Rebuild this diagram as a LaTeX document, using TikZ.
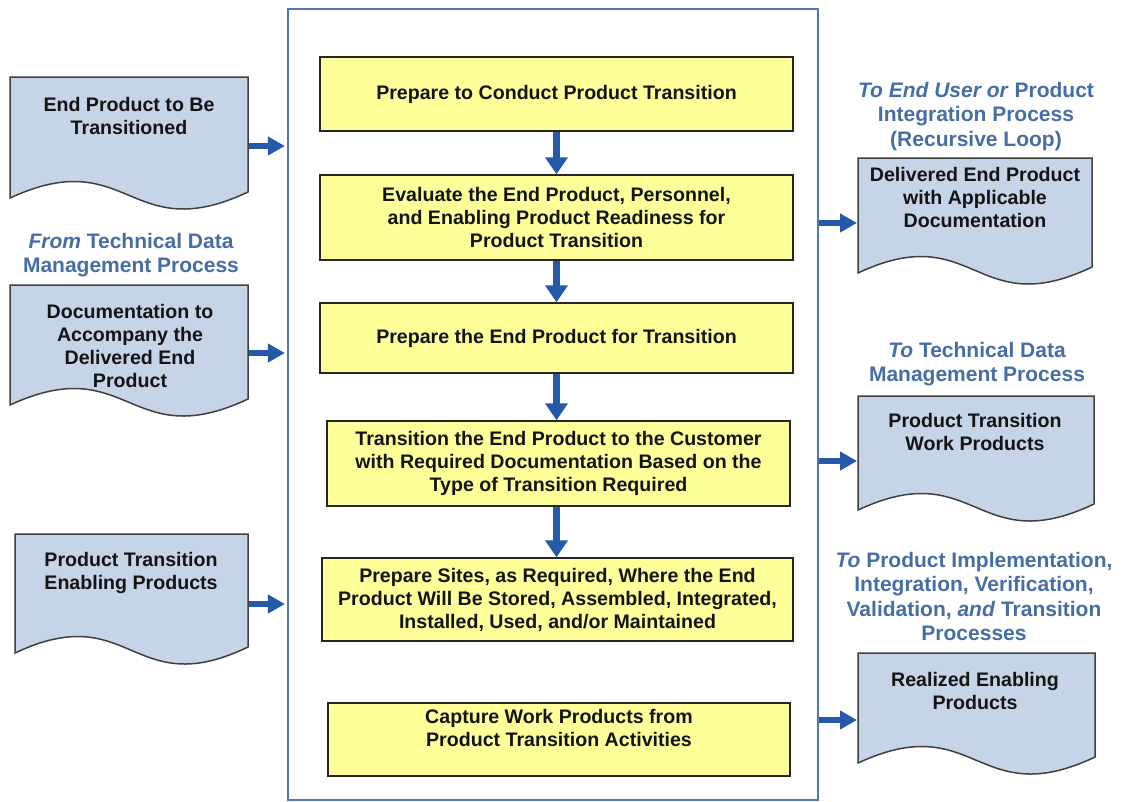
\documentclass[tikz,border=0pt]{standalone}
\usepackage{fontspec}
\setmainfont{Liberation Sans}
\usetikzlibrary{arrows.meta}
\definecolor{yel}{RGB}{255,255,153}
\definecolor{docfill}{RGB}{197,212,230}
\definecolor{arrc}{RGB}{36,90,168}
\definecolor{framec}{RGB}{74,120,184}
\definecolor{lblc}{RGB}{70,110,165}
\definecolor{txt}{RGB}{20,20,20}
\newcommand{\bodyfont}{\fontsize{19.6pt}{23pt}\selectfont\bfseries}
\newcommand{\lblfont}{\fontsize{21pt}{24.5pt}\selectfont\bfseries}
\begin{document}
\begin{tikzpicture}[x=1pt,y=-1pt,
  ybox/.style={draw=black!85, line width=1.5pt, fill=yel, inner sep=0pt, align=center, font=\bodyfont, text=txt},
  docshape/.style={draw=black!75, line width=1.5pt, fill=docfill},
  doctext/.style={align=center, font=\bodyfont, text=txt, inner sep=0pt},
  lbl/.style={align=center, font=\lblfont, text=lblc, inner sep=0pt},
  varr/.style={draw=arrc, line width=7pt, -{Triangle[width=22pt,length=17pt]}},
  harr/.style={draw=arrc, line width=6pt, -{Triangle[width=18pt,length=17pt]}}]
\useasboundingbox (0,0) rectangle (1124,801);
\fill[white] (0,0) rectangle (1124,801);

% frame
\node[draw=framec, line width=2.2pt, minimum width=530pt, minimum height=791pt, inner sep=0pt] (frame) at (553,404.5) {};

% process boxes
\node[ybox, minimum width=473pt, minimum height=74pt] (b1) at (556.5,94) {Prepare to Conduct Product Transition};
\node[ybox, minimum width=473pt, minimum height=85pt] (b2) at (556.5,217.5) {Evaluate the End Product, Personnel,\\and Enabling Product Readiness for\\Product Transition};
\node[ybox, minimum width=473pt, minimum height=70pt] (b3) at (556.5,338) {Prepare the End Product for Transition};
\node[ybox, minimum width=463pt, minimum height=85pt] (b4) at (558.5,463.5) {Transition the End Product to the Customer\\with Required Documentation Based on the\\Type of Transition Required};
\node[ybox, minimum width=471pt, minimum height=83pt] (b5) at (557.5,599.5) {Prepare Sites, as Required, Where the End\\Product Will Be Stored, Assembled, Integrated,\\Installed, Used, and/or Maintained};
\node[ybox, minimum width=462pt, minimum height=73pt] (b6) at (559,739.5) {};
\node[doctext] (b6t) at (559,728) {Capture Work Products from\\Product Transition Activities};

% vertical arrows
\draw[varr] (b1.south) -- (b1.south |- b2.north);
\draw[varr] (b2.south) -- (b2.south |- b3.north);
\draw[varr] (b3.south) -- (b3.south |- b4.north);
\draw[varr] (b4.south -| b3.south) -- (b3.south |- b5.north);

% left documents
\draw[docshape] (10,77) -- (248,77) -- (248,192) .. controls (129,248) and (129,143) .. (10,198) -- cycle;
\node[doctext] (d1) at (129,116) {End Product to Be\\Transitioned};
\draw[docshape] (10,285) -- (248,285) -- (248,399) .. controls (129,455) and (129,350) .. (10,405) -- cycle;
\node[doctext] (d2) at (130,346) {Documentation to\\Accompany the\\Delivered End\\Product};
\draw[docshape] (15,534) -- (248,534) -- (248,647) .. controls (131.5,703) and (131.5,598) .. (15,653) -- cycle;
\node[doctext] (d3) at (131,573) {Product Transition\\Enabling Products};

\node[lbl] (l1) at (131,255) {\textit{From} Technical Data\\Management Process};

% right documents
\draw[docshape] (858,158) -- (1092,158) -- (1092,267) .. controls (975,323) and (975,218) .. (858,273) -- cycle;
\node[doctext] (d4) at (975,197) {Delivered End Product\\with Applicable\\Documentation};
\draw[docshape] (858,396) -- (1094,396) -- (1094,504) .. controls (976,560) and (976,455) .. (858,510) -- cycle;
\node[doctext] (d5) at (975,432) {Product Transition\\Work Products};
\draw[docshape] (858,653) -- (1095,653) -- (1095,757) .. controls (976.5,813) and (976.5,708) .. (858,763) -- cycle;
\node[doctext] (d6) at (975,691) {Realized Enabling\\Products};

\node[lbl] (r1) at (976,116.5) {\textit{To End User or} Product\\Integration Process\\(Recursive Loop)};
\node[lbl] (r2) at (977,364) {\textit{To} Technical Data\\Management Process};
\node[lbl] (r3) at (974,596.5) {\textit{To} Product Implementation,\\Integration, Verification,\\Validation, \textit{and} Transition\\Processes};

% input arrows
\coordinate (d1e) at (249,146);
\coordinate (d2e) at (249,353);
\coordinate (d3e) at (249,604);
\draw[harr, shorten >=2pt] (d1e) -- (frame.west |- d1e);
\draw[harr, shorten >=2pt] (d2e) -- (frame.west |- d2e);
\draw[harr, shorten >=2pt] (d3e) -- (frame.west |- d3e);

% output arrows
\coordinate (d4w) at (857,223);
\coordinate (d5w) at (857,461);
\coordinate (d6w) at (857,720);
\draw[harr] (frame.east |- d4w) -- (d4w);
\draw[harr] (frame.east |- d5w) -- (d5w);
\draw[harr] (frame.east |- d6w) -- (d6w);
\end{tikzpicture}
\end{document}
